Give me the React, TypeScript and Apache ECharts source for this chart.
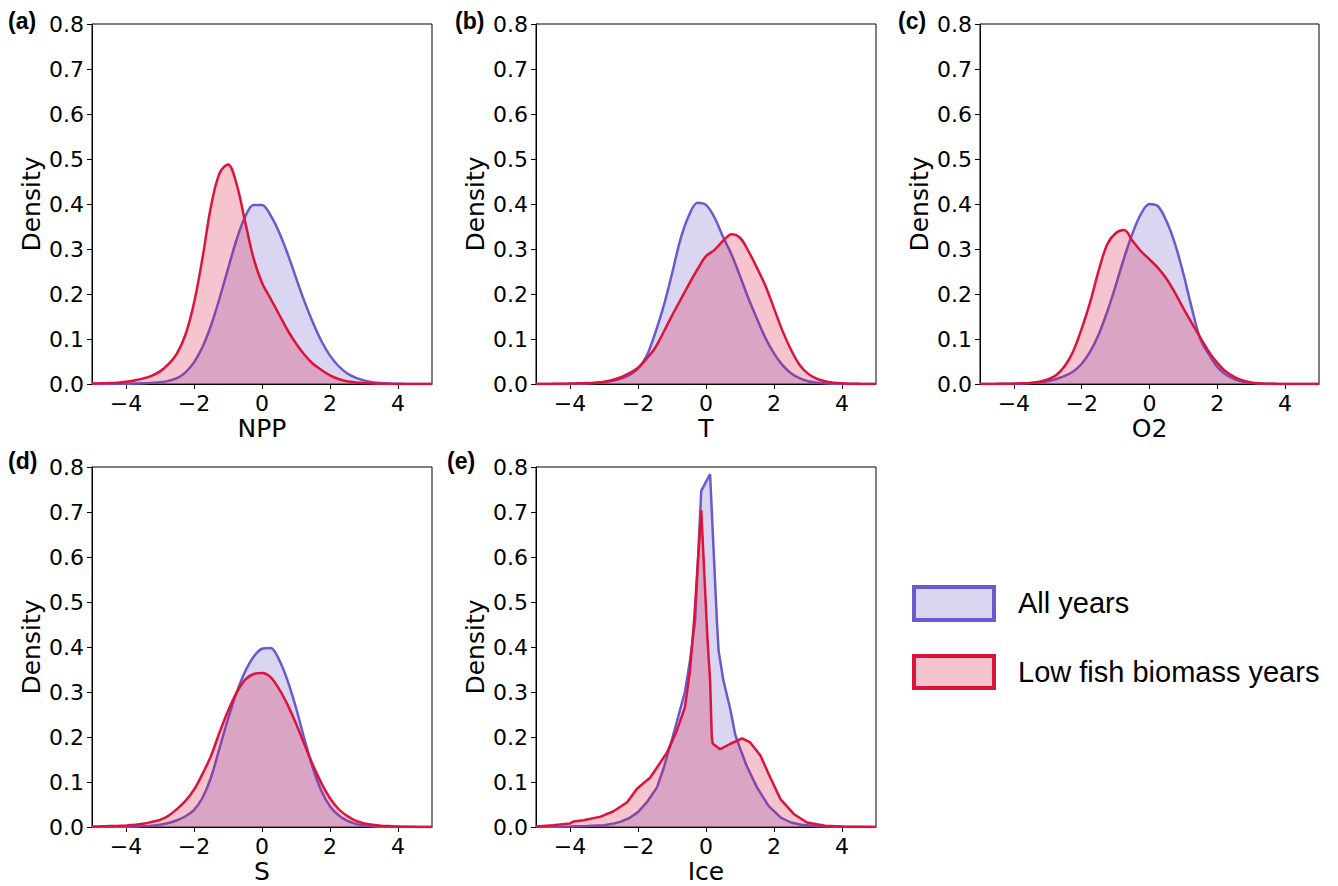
import React, { useEffect, useRef } from "react";
import * as echarts from "echarts";

// Shared evaluation grid for panels (a)-(d)
const xGrid = [
  -5, -4.75, -4.5, -4.25, -4, -3.75, -3.5, -3.25, -3, -2.75, -2.5, -2.25, -2, -1.75, -1.5, -1.25, -1, -0.75, -0.5, -0.25,
  0, 0.25, 0.5, 0.75, 1, 1.25, 1.5, 1.75, 2, 2.25, 2.5, 2.75, 3, 3.25, 3.5, 3.75, 4, 4.25, 4.5, 4.75, 5,
];

const nppAll = [
  0, 0, 0, 0, 0.0005, 0.001, 0.0015, 0.0025, 0.004, 0.007, 0.013, 0.026, 0.048, 0.082, 0.13, 0.19, 0.256, 0.32, 0.371, 0.398,
  0.398, 0.375, 0.338, 0.29, 0.236, 0.183, 0.136, 0.095, 0.063, 0.04, 0.024, 0.014, 0.008, 0.004, 0.002, 0.001, 0.0005, 0, 0, 0, 0,
];
const nppLow = [
  0.001, 0.0015, 0.002, 0.003, 0.005, 0.008, 0.012, 0.018, 0.028, 0.044, 0.068, 0.11, 0.18, 0.28, 0.395, 0.468, 0.488, 0.445, 0.362, 0.28,
  0.225, 0.19, 0.155, 0.12, 0.09, 0.065, 0.045, 0.031, 0.019, 0.011, 0.006, 0.0035, 0.002, 0.001, 0.0006, 0.0003, 0, 0, 0, 0, 0,
];
const tAll = [
  0, 0, 0, 0, 0.0003, 0.0006, 0.001, 0.002, 0.004, 0.007, 0.012, 0.02, 0.034, 0.062, 0.112, 0.172, 0.245, 0.322, 0.375, 0.403,
  0.398, 0.37, 0.327, 0.288, 0.24, 0.19, 0.145, 0.102, 0.068, 0.042, 0.024, 0.013, 0.006, 0.003, 0.0015, 0.0007, 0.0003, 0, 0, 0, 0,
];
const tLow = [
  0, 0, 0.0003, 0.0005, 0.001, 0.0015, 0.002, 0.003, 0.005, 0.009, 0.015, 0.024, 0.036, 0.056, 0.08, 0.115, 0.152, 0.187, 0.222, 0.255,
  0.284, 0.298, 0.318, 0.333, 0.325, 0.295, 0.258, 0.218, 0.168, 0.118, 0.076, 0.043, 0.023, 0.012, 0.006, 0.003, 0.0015, 0.0007, 0.0003, 0, 0,
];
const o2All = [
  0, 0, 0, 0.0003, 0.0006, 0.001, 0.002, 0.0035, 0.006, 0.011, 0.018, 0.028, 0.045, 0.072, 0.11, 0.16, 0.218, 0.28, 0.335, 0.378,
  0.4, 0.395, 0.362, 0.312, 0.245, 0.168, 0.1, 0.066, 0.038, 0.021, 0.011, 0.005, 0.0025, 0.001, 0.0005, 0, 0, 0, 0, 0, 0,
];
const o2Low = [
  0, 0, 0.0003, 0.0006, 0.001, 0.0015, 0.0025, 0.005, 0.01, 0.02, 0.04, 0.073, 0.123, 0.182, 0.252, 0.31, 0.335, 0.342, 0.318, 0.295,
  0.277, 0.258, 0.234, 0.203, 0.168, 0.135, 0.103, 0.072, 0.047, 0.028, 0.016, 0.008, 0.0035, 0.0015, 0.0007, 0.0003, 0, 0, 0, 0, 0,
];
const sAll = [
  0, 0, 0, 0.0003, 0.0006, 0.001, 0.002, 0.003, 0.005, 0.009, 0.015, 0.024, 0.038, 0.065, 0.11, 0.175, 0.24, 0.298, 0.345, 0.378,
  0.396, 0.398, 0.372, 0.326, 0.265, 0.195, 0.13, 0.08, 0.046, 0.026, 0.014, 0.007, 0.0035, 0.0015, 0.0007, 0.0003, 0, 0, 0, 0, 0,
];
const sLow = [
  0.001, 0.0015, 0.002, 0.0025, 0.003, 0.005, 0.007, 0.011, 0.016, 0.025, 0.04, 0.058, 0.083, 0.118, 0.158, 0.21, 0.258, 0.298, 0.327, 0.34,
  0.342, 0.333, 0.307, 0.272, 0.23, 0.183, 0.137, 0.097, 0.064, 0.04, 0.025, 0.014, 0.008, 0.005, 0.003, 0.002, 0.001, 0.0005, 0.0003, 0, 0,
];

// Panel (e) uses its own (uneven) x positions
const iceAllX = [
  -5, -4.5, -4, -3.5, -3, -2.75, -2.5, -2.25, -2, -1.75, -1.44, -1.25, -1, -0.82, -0.62, -0.47, -0.32, -0.14, 0.12, 0.32,
  0.37, 0.51, 0.72, 0.86, 1.0, 1.2, 1.5, 1.84, 2.2, 2.5, 2.8, 3.2, 3.6, 4.2, 5,
];
const iceAllY = [
  0, 0.0005, 0.001, 0.002, 0.004, 0.007, 0.012, 0.02, 0.033, 0.054, 0.088, 0.13, 0.195, 0.244, 0.3, 0.37, 0.459, 0.747, 0.784, 0.459,
  0.392, 0.326, 0.26, 0.205, 0.175, 0.135, 0.088, 0.047, 0.021, 0.01, 0.005, 0.002, 0.001, 0, 0,
];
const iceLowX = [
  -5, -4.5, -4.0, -3.9, -3.6, -3.1, -2.72, -2.32, -2.03, -1.64, -1.15, -0.86, -0.62, -0.47, -0.35, -0.14, 0.045, 0.12, 0.17, 0.2,
  0.42, 0.72, 1.06, 1.3, 1.6, 1.89, 2.19, 2.58, 2.97, 3.5, 4.0, 5,
];
const iceLowY = [
  0.001, 0.004, 0.008, 0.012, 0.015, 0.023, 0.035, 0.055, 0.085, 0.11, 0.165, 0.214, 0.266, 0.348, 0.459, 0.704, 0.415, 0.326, 0.2, 0.185,
  0.173, 0.185, 0.197, 0.188, 0.159, 0.11, 0.062, 0.029, 0.01, 0.003, 0.001, 0,
];

const xTicks = [-4, -2, 0, 2, 4];
const panelLabels = ["(a)", "(b)", "(c)", "(d)", "(e)"];
const xNames = ["NPP", "T", "O2", "S", "Ice"];
const legendNames = ["All years", "Low fish biomass years"];

const BLUE = "#6A5ACD";
const BLUE_FILL = "rgba(106,90,205,0.25)";
const RED = "#DC143C";
const RED_FILL = "rgba(220,20,60,0.25)";
const TICK_FONT = "DejaVu Sans";

const zip = (xs: number[], ys: number[]) => xs.map((x, i) => [x, ys[i]]);

export default function App() {
  const ref = useRef<HTMLDivElement>(null);

  useEffect(() => {
    if (!ref.current) return;
    const chart = echarts.init(ref.current, undefined, { renderer: "svg" });

    const grids = [
      { left: 92, top: 24, width: 340, height: 360 },
      { left: 536, top: 24, width: 340, height: 360 },
      { left: 980, top: 24, width: 339, height: 360 },
      { left: 92, top: 467, width: 340, height: 360 },
      { left: 536, top: 467, width: 340, height: 360 },
    ];
    const labelPos = [
      [8, 21],
      [455, 21],
      [898, 21],
      [8, 461],
      [447, 461],
    ];

    const pairs: [number[][], number[][]][] = [
      [zip(xGrid, nppAll), zip(xGrid, nppLow)],
      [zip(xGrid, tAll), zip(xGrid, tLow)],
      [zip(xGrid, o2All), zip(xGrid, o2Low)],
      [zip(xGrid, sAll), zip(xGrid, sLow)],
      [zip(iceAllX, iceAllY), zip(iceLowX, iceLowY)],
    ];

    const fmtX = (v: number) => String(v).replace("-", "\u2212");

    const series: any[] = [];
    pairs.forEach(([all, low], i) => {
      const smooth = i < 4 ? 0.35 : false;
      series.push({
        type: "line",
        xAxisIndex: i,
        yAxisIndex: i,
        data: all,
        smooth,
        showSymbol: false,
        symbol: "none",
        lineStyle: { color: BLUE, width: 2.5 },
        itemStyle: { color: BLUE },
        areaStyle: { color: BLUE_FILL, opacity: 1 },
        z: 2,
      });
      series.push({
        type: "line",
        xAxisIndex: i,
        yAxisIndex: i,
        data: low,
        smooth,
        showSymbol: false,
        symbol: "none",
        lineStyle: { color: RED, width: 2.5 },
        itemStyle: { color: RED },
        areaStyle: { color: RED_FILL, opacity: 1 },
        z: 3,
      });
    });

    const graphic: any[] = [];
    panelLabels.forEach((t, i) => {
      graphic.push({
        type: "text",
        x: labelPos[i][0],
        y: labelPos[i][1],
        style: {
          text: t,
          fontSize: 23,
          fontWeight: "bold",
          fontFamily: "Liberation Sans",
          fill: "#000",
          align: "left",
          verticalAlign: "middle",
        },
      });
    });
    const legendBoxes = [
      { y: 587, h: 33, fill: BLUE_FILL, stroke: BLUE, ty: 603 },
      { y: 656, h: 32, fill: RED_FILL, stroke: RED, ty: 672 },
    ];
    legendBoxes.forEach((b, i) => {
      graphic.push({
        type: "rect",
        shape: { x: 914, y: b.y, width: 80, height: b.h },
        style: { fill: b.fill, stroke: b.stroke, lineWidth: 4 },
      });
      graphic.push({
        type: "text",
        x: 1018,
        y: b.ty,
        style: {
          text: legendNames[i],
          fontSize: 29,
          fontFamily: "Liberation Sans",
          fill: "#000",
          align: "left",
          verticalAlign: "middle",
        },
      });
    });

    const option: any = {
      animation: false,
      backgroundColor: "#ffffff",
      grid: grids.map((g) => ({ ...g, show: true, borderColor: "#000", borderWidth: 1, backgroundColor: "transparent" })),
      xAxis: grids.map((_, i) => ({
        type: "value",
        gridIndex: i,
        min: -5,
        max: 5,
        name: xNames[i],
        nameLocation: "middle",
        nameGap: 32,
        nameTextStyle: { fontSize: 25, fontFamily: TICK_FONT, color: "#000" },
        axisLine: { show: true, onZero: false, lineStyle: { color: "#000", width: 1 } },
        axisTick: { show: true, length: 5, customValues: xTicks, lineStyle: { color: "#000", width: 1 } },
        axisLabel: { customValues: xTicks, formatter: fmtX, fontSize: 22, fontFamily: TICK_FONT, color: "#000", margin: 8 },
        splitLine: { show: false },
      })),
      yAxis: grids.map((_, i) => ({
        type: "value",
        gridIndex: i,
        min: 0,
        max: 0.8,
        interval: 0.1,
        name: "Density",
        nameLocation: "middle",
        nameGap: 48,
        nameTextStyle: { fontSize: 25, fontFamily: TICK_FONT, color: "#000" },
        axisLine: { show: true, onZero: false, lineStyle: { color: "#000", width: 1 } },
        axisTick: { show: true, length: 5, lineStyle: { color: "#000", width: 1 } },
        axisLabel: {
          formatter: (v: number) => v.toFixed(1),
          fontSize: 22,
          fontFamily: TICK_FONT,
          color: "#000",
          margin: 8,
        },
        splitLine: { show: false },
      })),
      series,
      graphic,
    };

    chart.setOption(option);
    return () => chart.dispose();
  }, []);

  return (
    <div
      ref={ref}
      style={{ position: "fixed", left: 0, top: 0, width: 1338, height: 886, background: "#fff" }}
    />
  );
}
